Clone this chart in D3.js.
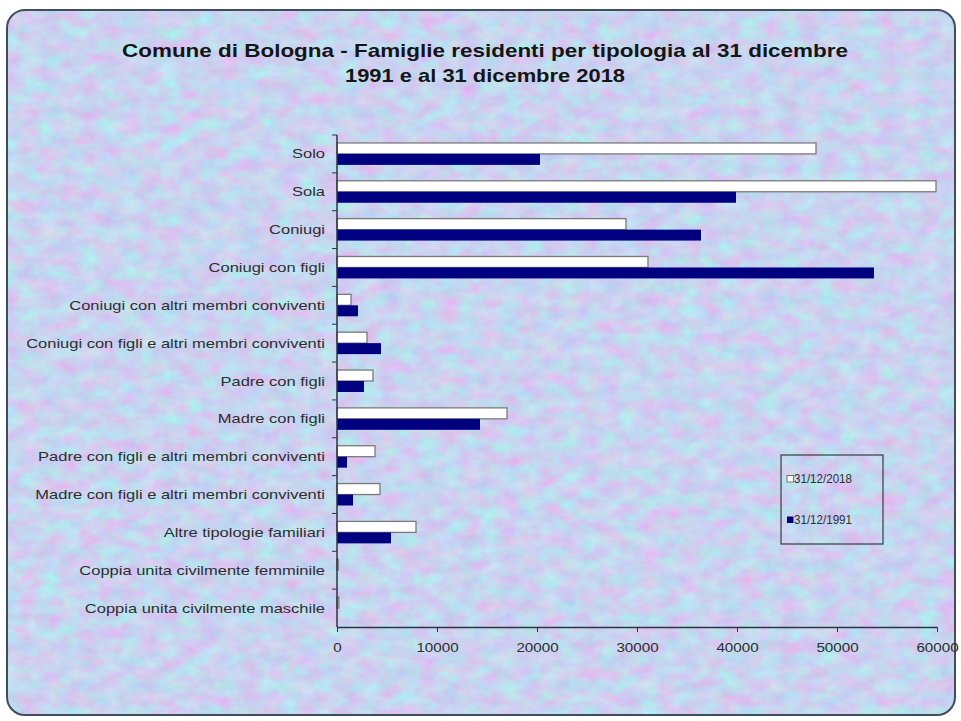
<!DOCTYPE html>
<html>
<head>
<meta charset="utf-8">
<script src="https://cdn.jsdelivr.net/npm/d3@7"></script>
<style>
  html, body { margin: 0; padding: 0; background: #ffffff; }
  svg { display: block; }
  text { font-family: "Liberation Sans", Arial, sans-serif; }
</style>
</head>
<body>
<script>
// Household types, top to bottom
const categories = [
  "Solo",
  "Sola",
  "Coniugi",
  "Coniugi con figli",
  "Coniugi con altri membri conviventi",
  "Coniugi con figli e altri membri conviventi",
  "Padre con figli",
  "Madre con figli",
  "Padre con figli e altri membri conviventi",
  "Madre con figli e altri membri conviventi",
  "Altre tipologie familiari",
  "Coppia unita civilmente femminile",
  "Coppia unita civilmente maschile"
];

// Number of resident households at 31/12/2018
const values2018 = [47900, 59900, 28900, 31100, 1400, 3000, 3600, 17000, 3800, 4300, 7900, 120, 180];
// Number of resident households at 31/12/1991
const values1991 = [20300, 39900, 36400, 53700, 2100, 4400, 2700, 14300, 1000, 1600, 5400, 0, 0];

const seriesNames = ["31/12/2018", "31/12/1991"];
const xTicks = [0, 10000, 20000, 30000, 40000, 50000, 60000];

const titleLines = [
  "Comune di Bologna - Famiglie residenti per tipologia al 31 dicembre",
  "1991 e al 31 dicembre 2018"
];

const W = 961, H = 721;
const FONT = "'Liberation Sans', Arial, sans-serif";
const STRETCH = 1.27; // horizontal widening of the sans labels

const svg = d3.select("body").append("svg").attr("width", W).attr("height", H);
const defs = svg.append("defs");

// Mottled blue/lilac paper texture for the chart area
const filt = defs.append("filter").attr("id", "paper")
  .attr("filterUnits", "userSpaceOnUse")
  .attr("color-interpolation-filters", "sRGB")
  .attr("x", 0).attr("y", 0).attr("width", W).attr("height", H);
filt.append("feTurbulence")
  .attr("type", "fractalNoise")
  .attr("baseFrequency", "0.05 0.075")
  .attr("numOctaves", 4)
  .attr("seed", 11)
  .attr("result", "noise");
filt.append("feColorMatrix")
  .attr("in", "noise")
  .attr("type", "matrix")
  .attr("values",
    "0.26 -0.13 0 0 0.72 " +
    "-0.13 0.26 0 0 0.765 " +
    "0 0 0.08 0 0.90 " +
    "0 0 0 0 1");

const frame = { x: 7, y: 10, w: 948, h: 705, r: 18 };
defs.append("clipPath").attr("id", "frameClip")
  .append("rect")
  .attr("x", frame.x).attr("y", frame.y)
  .attr("width", frame.w).attr("height", frame.h)
  .attr("rx", frame.r).attr("ry", frame.r);

svg.append("g").attr("clip-path", "url(#frameClip)")
  .append("rect")
  .attr("x", 0).attr("y", 0).attr("width", W).attr("height", H)
  .attr("fill", "#cdd8f0")
  .attr("filter", "url(#paper)");

svg.append("rect")
  .attr("x", frame.x).attr("y", frame.y)
  .attr("width", frame.w).attr("height", frame.h)
  .attr("rx", frame.r).attr("ry", frame.r)
  .attr("fill", "none")
  .attr("stroke", "#3e4e5c")
  .attr("stroke-width", 2);

// Title, centred over the plot
const titleWidths = [726, 280];
svg.append("g").selectAll("text").data(titleLines).join("text")
  .attr("x", 485)
  .attr("y", (d, i) => 57 + i * 25)
  .attr("text-anchor", "middle")
  .attr("font-size", 19).attr("font-weight", "bold")
  .attr("fill", "#151515")
  .attr("textLength", (d, i) => titleWidths[i])
  .attr("lengthAdjust", "spacingAndGlyphs")
  .text(d => d);

// Plot area
const plot = { left: 337, right: 937, top: 135, bottom: 627 };

const x = d3.scaleLinear().domain([0, 60000]).range([plot.left, plot.right]);
const y = d3.scaleBand().domain(categories).range([plot.top, plot.bottom])
  .paddingInner(0.42).paddingOuter(0.21);
const ySub = d3.scaleBand().domain(seriesNames).range([0, y.bandwidth()]);

const rows = categories.map((c, i) => ({ cat: c, v: [values2018[i], values1991[i]] }));

const gBars = svg.append("g");
const rowG = gBars.selectAll("g.row").data(rows).join("g")
  .attr("class", "row")
  .attr("transform", d => `translate(0,${y(d.cat)})`);

rowG.append("rect")
  .attr("x", x(0))
  .attr("y", ySub(seriesNames[0]))
  .attr("width", d => x(d.v[0]) - x(0))
  .attr("height", ySub.bandwidth())
  .attr("fill", "#ffffff")
  .attr("stroke", "#7a7a7a")
  .attr("stroke-width", 1.3);

rowG.append("rect")
  .attr("x", x(0))
  .attr("y", ySub(seriesNames[1]))
  .attr("width", d => x(d.v[1]) - x(0))
  .attr("height", ySub.bandwidth())
  .attr("fill", "#000080");

// Category axis with ticks between bands
const gy = svg.append("g");
gy.append("line")
  .attr("x1", plot.left).attr("x2", plot.left)
  .attr("y1", plot.top).attr("y2", plot.bottom)
  .attr("stroke", "#2b3440").attr("stroke-width", 1.5);
const step = y.step();
const boundaries = d3.range(categories.length).map(i => plot.top + i * step);
gy.selectAll("line.tk").data(boundaries).join("line")
  .attr("class", "tk")
  .attr("x1", plot.left - 5).attr("x2", plot.left)
  .attr("y1", d => d).attr("y2", d => d)
  .attr("stroke", "#2b3440").attr("stroke-width", 1);
gy.selectAll("text").data(categories).join("text")
  .attr("transform", d => `translate(${plot.left - 12},${y(d) + y.bandwidth() / 2}) scale(${STRETCH},1)`)
  .attr("dy", "0.35em")
  .attr("text-anchor", "end")
  .attr("font-size", 13)
  .attr("fill", "#2e2e2e")
  .text(d => d);

// Value axis
const xAxis = d3.axisBottom(x).tickValues(xTicks).tickFormat(d3.format("d"))
  .tickSize(5).tickSizeOuter(0);
const gx = svg.append("g")
  .attr("transform", `translate(0,${plot.bottom})`)
  .call(xAxis);
gx.select(".domain").attr("stroke", "#2b3440").attr("stroke-width", 1.5);
gx.selectAll(".tick line").attr("stroke", "#2b3440");
gx.selectAll(".tick text")
  .attr("font-family", FONT)
  .attr("font-size", 13)
  .attr("fill", "#2e2e2e")
  .attr("y", 0)
  .attr("dy", 0)
  .attr("transform", `translate(0,25) scale(${STRETCH * 0.92},1)`);

// Legend
const lg = svg.append("g").attr("transform", "translate(781,455)");
lg.append("rect")
  .attr("width", 102).attr("height", 89)
  .attr("fill", "none")
  .attr("stroke", "#3a3a3a").attr("stroke-width", 1.2);
const legendItems = lg.selectAll("g.item").data(seriesNames).join("g")
  .attr("class", "item")
  .attr("transform", (d, i) => `translate(6,${24 + i * 41})`);
legendItems.append("rect")
  .attr("x", 0).attr("y", -3.5).attr("width", 6.5).attr("height", 6.5)
  .attr("fill", (d, i) => i === 0 ? "#ffffff" : "#000080")
  .attr("stroke", (d, i) => i === 0 ? "#555" : "none")
  .attr("stroke-width", 0.8);
legendItems.append("text")
  .attr("x", 7).attr("y", 0).attr("dy", "0.35em")
  .attr("font-size", 12)
  .attr("fill", "#2e2e2e")
  .attr("textLength", 58)
  .attr("lengthAdjust", "spacingAndGlyphs")
  .text(d => d);
</script>
</body>
</html>
